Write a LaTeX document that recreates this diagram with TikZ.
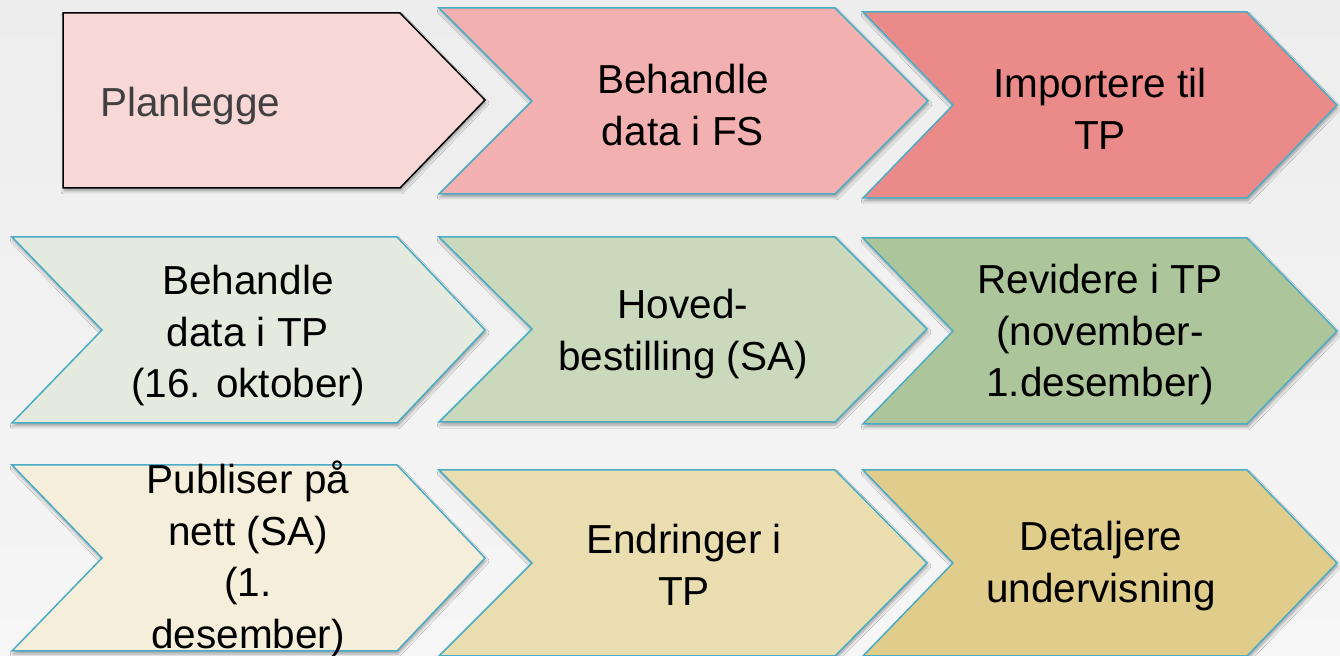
\documentclass[tikz,border=0pt]{standalone}
\usepackage{fontspec}
\setmainfont{Liberation Sans}
\usepackage{tikz}
\usepackage{xcolor}
\usetikzlibrary{
    shadows,
    shadows.blur
}

\definecolor{bgtop}{HTML}{EDEDED}
\definecolor{bgbot}{HTML}{F6F6F6}
\definecolor{edge}{HTML}{4BACC6}
\definecolor{plangray}{HTML}{404040}
\definecolor{redA}{HTML}{F8D8D7}
\definecolor{redB}{HTML}{F2B1B0}
\definecolor{redC}{HTML}{EA8A89}
\definecolor{greenA}{HTML}{E4EADD}
\definecolor{greenB}{HTML}{CAD8BC}
\definecolor{greenC}{HTML}{ADC59A}
\definecolor{sandA}{HTML}{F5EEDA}
\definecolor{sandB}{HTML}{EADDB0}
\definecolor{sandC}{HTML}{E1CD8B}

\tikzset{
    chev/.style={draw=edge, line width=0.75pt, line join=miter,
        blur shadow={shadow xshift=0.5pt, shadow yshift=-1.5pt,
            shadow blur radius=1.5pt, shadow opacity=35}},
    lbl/.style={align=center, inner sep=0pt, text=black,
        font=\fontsize{20.25}{25.75}\selectfont}
}

\begin{document}
\begin{tikzpicture}[x=0.5pt, y=-0.5pt]
    \useasboundingbox (0,0) rectangle (1340,656);
    \shade[top color=bgtop, bottom color=bgbot] (0,0) rectangle (1340,656);

    % first row
    \draw[chev, fill=redA, draw=black] (63,13) -- (400,13) -- (485,100) -- (400,188) -- (63,188) -- cycle;
    \draw[chev, fill=redB] (439,8) -- (835,8) -- (928,101) -- (835,194) -- (439,194) -- (532,101) -- cycle;
    \draw[chev, fill=redC] (863,12) -- (1247,12) -- (1337,105) -- (1247,198) -- (863,198) -- (953,105) -- cycle;
    \node[lbl, text=plangray, anchor=base west] (plan) at (100,117) {Planlegge};
    \node[lbl] (fsdata) at (683,105) {Behandle\\data i FS};
    \node[lbl] (import) at (1100,109) {Importere til\\TP};

    % second row
    \draw[chev, fill=greenA] (12,237) -- (397,237) -- (485,330) -- (397,423) -- (12,423) -- (102,330) -- cycle;
    \draw[chev, fill=greenB] (439,237) -- (835,237) -- (927,329) -- (835,422) -- (439,422) -- (532,329) -- cycle;
    \draw[chev, fill=greenC] (863,238) -- (1247,238) -- (1337,331) -- (1247,424) -- (863,424) -- (953,331) -- cycle;
    \node[lbl] (tpdata) at (248,336) {Behandle\\data i TP\\(16. oktober)};
    \node[lbl] (hoved) at (683,334) {Hoved-\\bestilling (SA)};
    \node[lbl] (revid) at (1100,335) {Revidere i TP\\(november-\\1.desember)};

    % third row
    \draw[chev, fill=sandA] (12,465) -- (397,465) -- (485,558) -- (397,651) -- (12,651) -- (102,558) -- cycle;
    \draw[chev, fill=sandB] (439,470) -- (835,470) -- (927,563) -- (835,656) -- (439,656) -- (532,563) -- cycle;
    \draw[chev, fill=sandC] (863,470) -- (1247,470) -- (1337,563) -- (1247,656) -- (863,656) -- (953,563) -- cycle;
    \node[lbl] (publ) at (248,559) {Publiser på\\nett (SA)\\(1.\\desember)};
    \node[lbl] (endr) at (684,565) {Endringer i\\TP};
    \node[lbl] (detalj) at (1101,566) {Detaljere\\undervisning};
\end{tikzpicture}
\end{document}
